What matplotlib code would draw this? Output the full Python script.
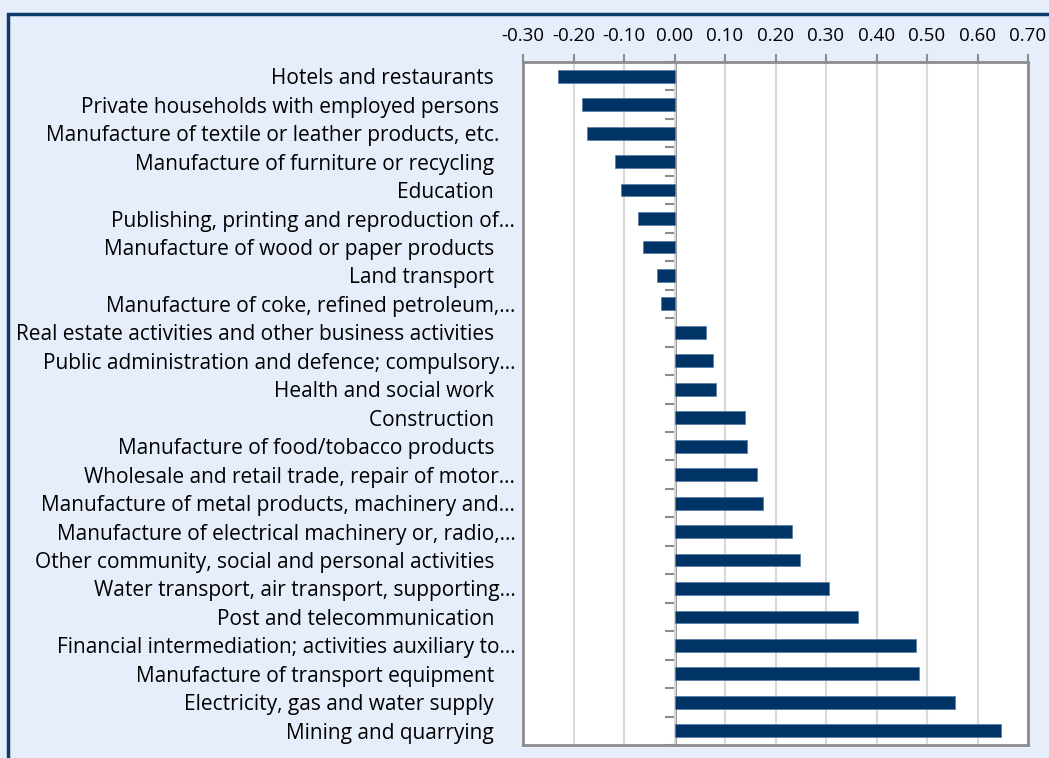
import numpy as np
import matplotlib.pyplot as plt
from matplotlib.patches import Rectangle

sectors = [
    "Hotels and restaurants ",
    "Private households with employed persons",
    "Manufacture of textile or leather products, etc.",
    "Manufacture of furniture or recycling ",
    "Education ",
    "Publishing, printing and reproduction of…",
    "Manufacture of wood or paper products ",
    "Land transport ",
    "Manufacture of coke, refined petroleum,…",
    "Real estate activities and other business activities ",
    "Public administration and defence; compulsory…",
    "Health and social work ",
    "Construction ",
    "Manufacture of food/tobacco products ",
    "Wholesale and retail trade, repair of motor…",
    "Manufacture of metal products, machinery and…",
    "Manufacture of electrical machinery or, radio,…",
    "Other community, social and personal activities ",
    "Water transport, air transport, supporting…",
    "Post and telecommunication ",
    "Financial intermediation; activities auxiliary to…",
    "Manufacture of transport equipment ",
    "Electricity, gas and water supply ",
    "Mining and quarrying ",
]
values = [-0.230, -0.184, -0.173, -0.118, -0.106, -0.072, -0.062, -0.035,
          -0.026, 0.063, 0.076, 0.082, 0.139, 0.143, 0.164, 0.176, 0.232,
          0.248, 0.306, 0.363, 0.479, 0.484, 0.556, 0.647]
xticks = [-0.30, -0.20, -0.10, 0.00, 0.10, 0.20, 0.30, 0.40, 0.50, 0.60, 0.70]

BG = '#E7EEFB'
BAR = '#003366'
GRID = '#D9D9D9'
AXC = '#8C8C8C'

plt.rcParams['font.family'] = ['Open Sans', 'DejaVu Sans']

fig = plt.figure(figsize=(10.49, 7.58), dpi=100, facecolor=BG)
# dark chart border (cut off at right and bottom)
fig.patches.append(Rectangle((8 / 1049, -0.05), 1.2, 1 - 13.5 / 758 + 0.05,
                             transform=fig.transFigure, fill=False,
                             edgecolor='#0B3A6B', linewidth=2.5))

ax = fig.add_axes([523 / 1049, 13 / 758, 505 / 1049, 683 / 758])
ax.set_facecolor('white')

pos = np.arange(len(sectors))
ax.barh(pos, values, height=0.45, color=BAR, edgecolor='#5b7fa8',
        linewidth=0.6, zorder=3)

ax.set_xlim(-0.30, 0.70)
ax.set_ylim(len(sectors) - 0.5, -0.5)
ax.set_xticks(xticks)
ax.set_xticklabels([f"{t:.2f}" for t in xticks], fontsize=13.5)
ax.xaxis.tick_top()
ax.tick_params(axis='x', direction='out', length=6, width=1.5, color=AXC,
               pad=6)
ax.grid(axis='x', color=GRID, linewidth=1.5, zorder=0)

ax.set_yticks(pos)
ax.set_yticklabels(sectors, fontsize=15)
ax.tick_params(axis='y', length=0, pad=17)
# truncated labels sit further right, as in the original
for tick, name in zip(ax.yaxis.get_major_ticks(), sectors):
    if name.endswith('…'):
        tick.set_pad(5.5)

for s in ax.spines.values():
    s.set_color(AXC)
    s.set_linewidth(2)

# category axis crossing at zero with ticks between categories
zero_frac = (0 - (-0.30)) / (0.70 - (-0.30))
sec = ax.secondary_yaxis(zero_frac)
sec.set_yticks(np.arange(len(sectors) + 1) - 0.5)
sec.set_yticklabels([])
sec.tick_params(direction='out', length=7, width=1.5, color=AXC)
sec.spines['left'].set_color(AXC)
sec.spines['left'].set_linewidth(2)

fig.savefig('out.png', dpi=100, facecolor=BG)
